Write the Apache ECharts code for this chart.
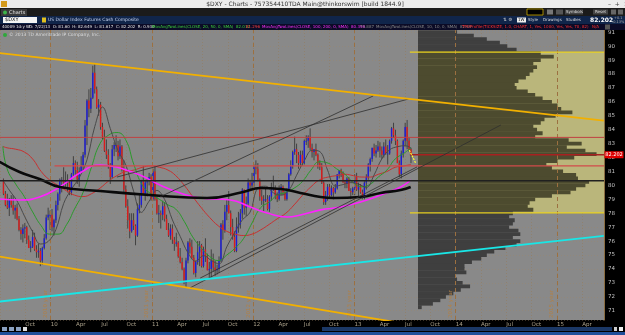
<!DOCTYPE html>
<html><head><meta charset="utf-8">
<script src="https://cdn.jsdelivr.net/npm/echarts@6/dist/echarts.min.js"></script>
<style>html,body{margin:0;padding:0;background:#000;overflow:hidden}#c{width:625px;height:335px}</style>
</head><body><div id="c"></div>
<script>
// ---------------- DATA ----------------
const firstWeek = '2009-07-13';
const open = [80.4,79.4,78.6,78.4,79.0,78.6,78.2,78.4,77.6,76.8,76.5,76.9,77.0,76.1,75.5,75.6,76.3,75.4,75.2,75.3,
74.6,75.5,76.2,77.7,77.9,77.9,77.0,77.5,78.6,79.4,80.4,80.4,80.2,80.3,80.2,79.5,80.8,81.6,81.1,80.4,
81.0,81.4,82.2,84.3,86.1,85.5,86.3,88.1,86.9,85.6,85.8,84.2,83.5,82.5,82.2,81.5,80.6,82.6,82.9,82.9,
82.1,82.8,81.1,79.7,78.5,77.5,76.7,77.5,77.1,76.4,78.3,78.6,80.3,79.4,80.2,80.3,80.6,79.0,81.0,79.0,
78.0,78.0,77.9,78.5,77.6,76.8,76.4,76.9,76.1,75.8,75.9,74.9,74.5,74.0,73.0,74.6,75.9,75.6,74.8,73.7,
74.5,75.2,75.7,74.2,75.4,74.9,73.9,74.0,74.6,74.1,73.9,74.0,74.6,77.2,76.8,78.1,78.6,78.0,77.0,76.3,
75.3,77.0,77.2,78.0,79.7,78.4,78.7,80.2,80.0,80.2,81.3,81.2,80.4,79.2,78.9,79.0,79.0,78.3,79.2,79.7,
79.8,79.3,79.0,79.8,79.9,79.5,79.0,79.7,80.8,81.4,82.4,82.6,82.2,81.6,82.2,81.6,83.2,83.2,83.5,82.7,
82.4,82.6,82.2,81.6,81.3,80.2,78.8,79.3,79.9,79.3,79.8,79.5,79.8,80.8,81.1,80.9,80.2,80.1,80.5,79.6,
79.5,79.8,80.6,79.7,80.0,79.5,79.1,80.2,80.6,81.5,81.9,82.7,82.3,82.5,82.8,82.5,82.2,82.8,82.3,82.3,
83.2,84.1,83.6,83.2,81.6,80.8,82.3,83.2,84.2,83.2,82.6];
const close = [79.4,78.6,78.4,79.0,78.6,78.2,78.4,77.6,76.8,76.5,76.9,77.0,76.1,75.5,75.6,76.3,75.4,75.2,75.3,74.6,
75.5,76.2,77.7,77.9,77.9,77.0,77.5,78.6,79.4,80.4,80.4,80.2,80.3,80.2,79.5,80.8,81.6,81.1,80.4,81.0,
81.4,82.2,84.3,86.1,85.5,86.3,88.1,86.9,85.6,85.8,84.2,83.5,82.5,82.2,81.5,80.6,82.6,82.9,82.9,82.1,
82.8,81.1,79.7,78.5,77.5,76.7,77.5,77.1,76.4,78.3,78.6,80.3,79.4,80.2,80.3,80.6,79.0,81.0,79.0,78.0,
78.0,77.9,78.5,77.6,76.8,76.4,76.9,76.1,75.8,75.9,74.9,74.5,74.0,73.0,74.6,75.9,75.6,74.8,73.7,74.5,
75.2,75.7,74.2,75.4,74.9,73.9,74.0,74.6,74.1,73.9,74.0,74.6,77.2,76.8,78.1,78.6,78.0,77.0,76.3,75.3,
77.0,77.2,78.0,79.7,78.4,78.7,80.2,80.0,80.2,81.3,81.2,80.4,79.2,78.9,79.0,79.0,78.3,79.2,79.7,79.8,
79.3,79.0,79.8,79.9,79.5,79.0,79.7,80.8,81.4,82.4,82.6,82.2,81.6,82.2,81.6,83.2,83.2,83.5,82.7,82.4,
82.6,82.2,81.6,81.3,80.2,78.8,79.3,79.9,79.3,79.8,79.5,79.8,80.8,81.1,80.9,80.2,80.1,80.5,79.6,79.5,
79.8,80.6,79.7,80.0,79.5,79.1,80.2,80.6,81.5,81.9,82.7,82.3,82.5,82.8,82.5,82.2,82.8,82.3,82.3,83.2,
84.1,83.6,83.2,81.6,80.8,82.3,83.2,84.2,83.2,82.6,82.2];
const high = [80.5,79.6,79.4,79.1,79.3,79.3,78.6,78.7,77.8,77.0,77.2,77.3,77.1,76.4,76.0,76.8,76.6,75.7,75.8,75.5,
75.6,76.5,77.9,78.4,78.2,78.3,77.6,78.9,79.5,80.5,80.6,81.3,81.0,80.8,80.3,80.9,82.1,81.8,81.7,81.3,
82.1,82.4,84.7,86.2,86.9,87.0,88.6,88.7,87.1,86.2,86.0,84.5,84.0,83.3,82.6,81.6,82.9,83.1,83.6,83.2,
83.3,82.9,81.8,80.0,79.0,78.0,78.0,78.0,77.2,78.7,79.4,80.4,81.4,80.4,80.5,80.9,80.8,81.2,81.4,79.2,
78.6,78.2,78.9,78.8,77.9,77.3,77.2,77.2,76.3,76.6,76.0,75.5,74.8,74.1,74.8,76.0,76.2,76.1,75.0,74.6,
76.0,76.0,75.8,75.6,76.2,75.1,74.5,75.4,75.1,74.6,74.3,74.9,77.3,77.5,78.6,79.0,79.6,78.2,77.6,76.7,
77.7,78.1,78.3,79.8,79.7,79.2,80.5,80.4,80.9,81.5,81.8,81.6,80.5,79.7,79.3,79.8,79.3,79.3,80.2,80.7,
80.0,79.5,80.0,80.1,80.0,79.6,79.8,80.9,81.8,82.5,83.5,83.0,82.4,82.5,82.5,83.3,83.6,83.6,84.1,83.0,
82.6,83.0,82.3,81.8,81.6,80.3,79.6,80.1,80.1,80.0,79.9,80.1,80.8,81.1,81.2,81.0,80.4,80.6,80.6,79.8,
79.9,80.8,80.9,80.2,80.1,79.7,80.3,80.8,81.6,82.0,82.7,83.0,82.9,83.2,83.1,82.8,83.1,83.3,82.9,83.3,
84.2,84.5,84.0,83.3,81.8,82.5,83.3,84.5,84.7,83.4,82.7];
const low = [79.3,78.5,78.3,77.8,78.4,77.9,77.6,77.5,76.7,76.1,75.9,76.2,75.8,75.5,75.2,75.5,75.3,74.8,74.8,74.2,
74.3,75.4,76.1,77.5,76.8,76.7,76.4,77.3,78.2,78.9,79.5,79.9,79.9,79.5,79.3,79.3,80.6,80.7,80.1,79.9,
80.9,81.0,82.0,82.9,84.9,85.2,86.2,86.6,85.5,85.0,84.0,83.3,82.4,81.9,81.2,80.1,80.5,82.1,82.4,81.8,
81.9,81.0,79.5,78.4,76.9,76.2,76.6,76.8,75.7,76.3,78.0,78.4,79.3,78.9,79.2,80.0,78.9,78.9,78.9,77.9,
77.3,76.9,77.5,77.4,76.8,76.3,76.1,75.8,75.3,75.6,74.8,74.4,73.9,72.9,72.7,74.4,75.1,74.7,73.6,73.4,
74.3,74.2,74.1,74.1,74.5,73.9,73.4,73.4,73.8,73.5,73.6,73.7,74.5,76.1,76.6,77.5,78.0,76.4,76.1,75.2,
75.2,76.6,76.9,77.6,77.9,77.8,78.5,79.7,79.8,79.9,80.8,80.3,78.9,78.6,78.1,78.8,78.2,78.1,78.9,79.6,
79.0,78.8,78.9,79.3,79.3,78.9,78.9,79.6,80.7,81.2,82.2,81.6,81.2,81.3,81.4,81.5,82.9,82.7,82.5,82.0,
81.8,82.1,81.2,81.1,80.1,78.6,78.6,78.9,79.1,79.2,79.0,79.4,79.7,80.5,80.6,80.2,79.8,79.8,79.6,79.0,
79.3,79.3,79.6,79.2,79.4,79.0,79.0,79.7,80.4,81.0,81.7,82.1,82.0,82.4,82.0,81.9,82.0,82.2,81.5,82.2,
83.0,83.4,82.9,81.6,80.6,80.5,82.0,82.8,82.6,82.4,81.6];

// 10-week average (gray), sampled at these week numbers
const grayWeeks = [1,4,8,12,16,20,24,28,32,36,40,44,48,52,56,60,64,68,72,76,80,84,88,92,96,100,104,108,112,116,120,124,128,132,136,140,144,148,152,156,160,164,168,172,176,180,184,188,192,196,200,204,208,211];
const grayMA = [80.3,79.66,78.88,77.74,76.67,75.79,75.97,76.82,78.70,79.73,80.55,81.84,84.22,85.63,84.09,82.50,81.47,79.59,78.06,78.87,79.64,78.99,77.52,76.34,75.16,74.55,74.96,74.61,74.36,75.59,76.59,77.52,78.08,79.81,79.94,79.47,79.30,79.65,80.73,81.77,82.52,82.43,81.10,79.95,80.06,80.20,80.09,79.86,80.75,81.92,82.56,82.78,82.85,82.69];

const maDates = ['2009-07-13','2009-07-28','2009-08-28','2009-09-28','2009-10-28','2009-11-28','2009-12-28',
'2010-01-28','2010-02-28','2010-03-28','2010-04-28','2010-05-28','2010-06-28','2010-07-28','2010-08-28','2010-09-28','2010-10-28','2010-11-28','2010-12-28',
'2011-01-28','2011-02-28','2011-03-28','2011-04-28','2011-05-28','2011-06-28','2011-07-28','2011-08-28','2011-09-28','2011-10-28','2011-11-28','2011-12-28',
'2012-01-28','2012-02-28','2012-03-28','2012-04-28','2012-05-28','2012-06-28','2012-07-28','2012-08-28','2012-09-28','2012-10-28','2012-11-28','2012-12-28',
'2013-01-28','2013-02-28','2013-03-28','2013-04-28','2013-05-28','2013-06-28','2013-07-24'];
const greenMA = [82.8,81.2,80.1,79.2,78.1,77.1,76.5,
76.5,77.2,78.3,79.5,81.3,83.0,83.6,83.8,83.3,81.5,80.0,79.4,
79.0,78.6,78.3,77.4,76.3,75.5,74.9,74.6,75.0,75.5,76.2,77.3,
78.4,78.8,79.3,79.5,79.8,80.3,81.1,81.7,81.6,81.2,80.8,80.2,
79.9,80.1,80.6,81.1,81.9,82.3,82.7];
const redMA = [82.8,82.7,82.6,82.4,81.9,81.0,80.4,
80.0,79.6,79.3,79.2,79.4,79.8,80.3,80.7,81.0,81.1,81.3,81.4,
81.3,81.1,80.7,80.0,79.2,78.4,77.7,77.1,76.7,76.5,76.4,76.5,
76.8,77.2,77.6,78.0,78.6,79.3,79.9,80.4,80.6,80.7,80.8,80.7,
80.6,80.6,80.8,81.0,81.3,81.4,81.5];

const magentaDates = ['2009-07-01','2009-09-11','2009-11-22','2010-02-03','2010-04-16','2010-06-28','2010-08-03','2010-09-08','2010-11-19','2011-01-30','2011-04-13','2011-06-24','2011-10-11','2011-12-22','2012-02-21','2012-05-04','2012-06-20','2012-09-01','2012-11-12','2013-01-23','2013-04-06','2013-06-17','2013-07-23'];
const magentaMA = [79.03,78.95,79.17,79.89,80.89,81.47,81.39,81.25,80.75,80.03,79.46,79.10,78.95,78.45,78.02,77.73,77.88,78.24,78.45,78.81,79.31,79.89,80.39];

const blackDates = ['2009-07-01','2009-09-11','2009-11-22','2010-02-03','2010-06-28','2010-12-25','2011-07-19','2011-11-26','2012-01-27','2012-04-09','2012-06-20','2012-09-01','2012-10-18','2013-01-23','2013-04-06','2013-06-17','2013-07-23'];
const blackMA = [81.7,80.96,80.46,79.89,79.60,79.31,79.10,79.53,79.81,79.74,79.46,79.17,79.10,79.17,79.46,79.67,79.89];

// drawn lines: [date, price] end points
const orangeUpper = [['2009-07-02',89.51],['2015-06-19',84.66]];
const orangeLower = [['2009-07-02',74.89],['2015-06-19',67.70]];
const cyanLine    = [['2009-07-02',71.66],['2015-06-19',76.37]];
const trendA = [['2010-08-28',80.60],['2013-07-16',86.21]];
const trendB = [['2011-01-30',79.17],['2013-03-10',86.43]];
const channelLow = [['2011-05-18',72.63],['2014-06-13',84.34]];
const channelUp  = [['2011-06-24',73.34],['2013-08-15',81.33]];
const arrowLine  = [['2013-07-18',82.53],['2013-08-10',81.60]];

const redLevelFull = 83.45;
const redLevelMid = 81.40, redLevelMidFrom = '2010-01-15';
const blackLevel = 80.33;
const lastPrice = 82.202;
const vaHigh = 89.58, vaLow = 78.02, levelsFrom = '2013-07-20';

// TPO / volume profile (price row -> relative width)
const profilePrice = [91.0,90.75,90.5,90.25,90.0,89.75,89.5,89.25,89.0,88.75,88.5,88.25,88.0,87.75,87.5,87.25,87.0,86.75,86.5,86.25,86.0,85.75,85.5,85.25,85.0,84.75,84.5,84.25,84.0,83.75,83.5,83.25,83.0,82.75,82.5,82.25,82.0,81.75,81.5,81.25,81.0,80.75,80.5,80.25,80.0,79.75,79.5,79.25,79.0,78.75,78.5,78.25,78.0,77.75,77.5,77.25,77.0,76.75,76.5,76.25,76.0,75.75,75.5,75.25,75.0,74.75,74.5,74.25,74.0,73.75,73.5,73.25,73.0,72.75,72.5,72.25,72.0,71.75,71.5,71.25];
const profileWidth = [21,30,37,44,48,53,66,73,66,62,64,62,60,58,54,52,53,59,63,67,72,75,77,83,74,68,66,62,64,67,63,81,88,80,90,96,84,75,69,72,78,85,86,92,90,85,82,72,63,60,59,62,51,49,52,51,49,54,55,51,55,53,47,41,37,34,29,25,25,26,20,21,24,28,23,19,15,12,8,2];

const yearLines = [2010,2011,2012,2013,2014,2015];
const quarterNames = ['', 'Apr', 'Jul', 'Oct'];

// ---------------- HELPERS ----------------
const DAY = 86400000;
function yf(t){ const d=new Date(t); const y=d.getUTCFullYear(); const a=Date.UTC(y,0,1), b=Date.UTC(y+1,0,1); return y+(t-a)/(b-a); }
function ds(s){ const p=s.split('-').map(Number); return yf(Date.UTC(p[0],p[1]-1,p[2])); }
const t0 = (()=>{const p=firstWeek.split('-').map(Number);return Date.UTC(p[0],p[1]-1,p[2]);})();
function weekX(i){ return yf(t0 + i*7*DAY + 2*DAY); }

const X_MIN = 2009.5, X_MAX = 2015.465;
const Y_MIN = 70.33, Y_MAX = 91.165;

const candleData = open.map((o,i)=>[weekX(i), o, close[i], low[i], high[i]]);
const grayData = grayWeeks.map((w,i)=>[weekX(w-1), grayMA[i]]);
const greenData = maDates.map((d,i)=>[ds(d), greenMA[i]]);
const redData = maDates.map((d,i)=>[ds(d), redMA[i]]);
const magData = magentaDates.map((d,i)=>[ds(d), magentaMA[i]]);
const blackData = blackDates.map((d,i)=>[ds(d), blackMA[i]]);
const pts = a => a.map(p=>[ds(p[0]), p[1]]);
const profileData = profilePrice.map((p,i)=>[profileWidth[i], p]);

function lineS(data, color, width, extra){
  return Object.assign({type:'line', data, xAxisIndex:0, yAxisIndex:0, symbol:'none', silent:true, z:5,
    lineStyle:{color, width}, animation:false}, extra||{});
}

const FONT = '"DejaVu Sans", sans-serif';
const chart = echarts.init(document.getElementById('c'));
const graphics = [
    // title bar
    {type:'rect', shape:{x:0,y:0,width:625,height:8}, style:{fill:'#ececec'}, z:100},
    {type:'rect', shape:{x:1,y:1,width:6,height:6}, style:{fill:'#d49a1c'}, z:101},
    {type:'text', style:{x:305,y:4.3,text:'$DXY - Charts - 757354410TDA Main@thinkorswim [build 1844.9]', fill:'#333', font:'6px '+FONT, align:'center', verticalAlign:'middle'}, z:101},
    {type:'text', style:{x:608,y:4.3,text:'–  +  ×', fill:'#444', font:'6px '+FONT, verticalAlign:'middle'}, z:101},
    // tab bar
    {type:'rect', shape:{x:0,y:8,width:625,height:8}, style:{fill:'#1b1b1b'}, z:100},
    {type:'rect', shape:{x:1,y:9,width:26,height:7}, style:{fill:'#3a3a3a'}, z:101},
    {type:'circle', shape:{cx:5,cy:12.5,r:2}, style:{fill:'#3cb44a'}, z:102},
    {type:'text', style:{x:9,y:12.6,text:'Charts', fill:'#e6e6e6', font:'5px '+FONT, verticalAlign:'middle'}, z:102},
    {type:'rect', shape:{x:527,y:9,width:16,height:6}, style:{fill:'#000', stroke:'#c8a800', lineWidth:0.8}, z:101},
    {type:'rect', shape:{x:547,y:9.5,width:6,height:5}, style:{fill:'#777'}, z:101},
    {type:'rect', shape:{x:556,y:9.5,width:7,height:5}, style:{fill:'#555'}, z:101},
    {type:'rect', shape:{x:565,y:9.5,width:18,height:5}, style:{fill:'#444'}, z:101},
    {type:'text', style:{x:566,y:12.2,text:'Symbols', fill:'#ddd', font:'4px '+FONT, verticalAlign:'middle'}, z:102},
    {type:'rect', shape:{x:593,y:9.5,width:15,height:5}, style:{fill:'#444'}, z:101},
    {type:'text', style:{x:595,y:12.2,text:'Reset', fill:'#ddd', font:'4px '+FONT, verticalAlign:'middle'}, z:102},
    {type:'rect', shape:{x:611,y:9.5,width:5,height:5}, style:{fill:'#666'}, z:101},
    {type:'rect', shape:{x:618,y:9.5,width:5,height:5}, style:{fill:'#666'}, z:101},
    // symbol bar
    {type:'rect', shape:{x:0,y:16,width:625,height:8}, style:{fill:'#10254a'}, z:100},
    {type:'rect', shape:{x:3,y:17,width:34,height:6}, style:{fill:'#f4f4f4'}, z:101},
    {type:'text', style:{x:5,y:20.2,text:'$DXY', fill:'#111', font:'5px '+FONT, verticalAlign:'middle'}, z:102},
    {type:'rect', shape:{x:42,y:17.5,width:4,height:5}, style:{fill:'#e0c020'}, z:101},
    {type:'text', style:{x:48,y:20.2,text:'US Dollar Index Futures Cash Composite', fill:'#c8d4f0', font:'4.5px '+FONT, verticalAlign:'middle'}, z:101},
    {type:'text', style:{x:503,y:20.2,text:'⇅ ⚙', fill:'#ccc', font:'4.5px '+FONT, verticalAlign:'middle'}, z:101},
    {type:'rect', shape:{x:517,y:17.5,width:9,height:5}, style:{fill:'#eee'}, z:101},
    {type:'text', style:{x:518,y:20.2,text:'1W', fill:'#111', font:'4px '+FONT, verticalAlign:'middle'}, z:102},
    {type:'text', style:{x:528,y:20.2,text:'Style', fill:'#ddd', font:'4px '+FONT, verticalAlign:'middle'}, z:101},
    {type:'text', style:{x:543,y:20.2,text:'Drawings', fill:'#ddd', font:'4px '+FONT, verticalAlign:'middle'}, z:101},
    {type:'text', style:{x:566,y:20.2,text:'Studies', fill:'#ddd', font:'4px '+FONT, verticalAlign:'middle'}, z:101},
    {type:'text', style:{x:590,y:20.4,text:'82.202', fill:'#ffffff', font:'bold 6px '+FONT, verticalAlign:'middle'}, z:101},
    {type:'text', style:{x:614,y:18.5,text:'+0.1', fill:'#aaa', font:'3.5px '+FONT, verticalAlign:'middle'}, z:101},
    {type:'text', style:{x:612,y:22,text:'-0.13%', fill:'#aaa', font:'3.5px '+FONT, verticalAlign:'middle'}, z:101},
    // study legend bar
    {type:'rect', shape:{x:0,y:24,width:625,height:6}, style:{fill:'#0b0b26'}, z:100},
    {type:'text', style:{x:2,y:27,text:'40009 1d:y W', fill:'#e8e8e8', font:'4px '+FONT, verticalAlign:'middle'}, z:101},
    {type:'text', style:{x:29,y:27,text:'D: 7/22/13  O: 81.60  H: 82.649  L: 81.617  C: 82.202  R: 0.930', fill:'#e0e0e0', font:'4px '+FONT, verticalAlign:'middle'}, z:101},
    {type:'text', style:{x:152,y:27,text:'MovAvgTwoLines(CLOSE, 20, 50, 0, SMA)  82.012', fill:'#3cd23c', font:'4px '+FONT, verticalAlign:'middle'}, z:101},
    {type:'text', style:{x:246,y:27,text:'81.296', fill:'#ff4040', font:'4px '+FONT, verticalAlign:'middle'}, z:101},
    {type:'text', style:{x:262,y:27,text:'MovAvgTwoLines(CLOSE, 100, 200, 0, SMA)  80.398', fill:'#ff30ff', font:'4px '+FONT, verticalAlign:'middle'}, z:101},
    {type:'text', style:{x:360,y:27,text:'79.887', fill:'#888', font:'4px '+FONT, verticalAlign:'middle'}, z:101},
    {type:'text', style:{x:376,y:27,text:'MovAvgTwoLines(CLOSE, 10, 10, 0, SMA)  82.69', fill:'#8a8a8a', font:'4px '+FONT, verticalAlign:'middle'}, z:101},
    {type:'text', style:{x:462,y:27,text:'TPOProfile(TICKSIZE, 1.0, CHART, 1, Yes, 1000, Yes, Yes, 70, 82)', fill:'#ff3030', font:'4px '+FONT, verticalAlign:'middle'}, z:101},
    {type:'text', style:{x:592,y:27,text:'N/A', fill:'#ff3030', font:'4px '+FONT, verticalAlign:'middle'}, z:101},
    {type:'rect', shape:{x:605,y:24.5,width:5,height:5}, style:{fill:'#555'}, z:101},
    // copyright
    {type:'circle', shape:{cx:5,cy:35,r:2}, style:{fill:'#2fa83a'}, z:101},
    {type:'text', style:{x:9,y:35.2,text:'© 2013 TD Ameritrade IP Company, Inc.', fill:'#dcdcdc', font:'4.5px '+FONT, verticalAlign:'middle'}, z:101},
    // status bar
    {type:'rect', shape:{x:2,y:327,width:5,height:4}, style:{fill:'#8aa0c0'}, z:101},
    {type:'rect', shape:{x:9,y:327,width:5,height:4}, style:{fill:'#8aa0c0'}, z:101},
    {type:'rect', shape:{x:16,y:327,width:5,height:4}, style:{fill:'#8aa0c0'}, z:101},
    {type:'rect', shape:{x:23,y:327,width:4,height:4}, style:{fill:'#ddd'}, z:101},
    {type:'rect', shape:{x:322,y:327,width:290,height:4}, style:{fill:'#1b3866'}, z:101},
    {type:'rect', shape:{x:614,y:327,width:3,height:4}, style:{fill:'#ccc'}, z:101},
    {type:'rect', shape:{x:619,y:327,width:4,height:4}, style:{fill:'#eee'}, z:101},
    {type:'rect', shape:{x:0,y:332,width:625,height:3}, style:{fill:'#1f4f9a'}, z:101}
];
const option = {
  backgroundColor:'#000',
  animation:false,
  grid:[
    {left:0, right:21, top:30, bottom:15, show:true, backgroundColor:'#898989', borderWidth:0},
    {left:418, right:21, top:30, bottom:15, show:false}
  ],
  xAxis:[
    {type:'value', gridIndex:0, min:X_MIN, max:X_MAX, interval:0.25,
     axisLine:{show:false}, axisTick:{show:false},
     axisLabel:{color:'#aaa08a', fontSize:5.5, fontFamily:FONT, align:'left', margin:2, showMinLabel:false, showMaxLabel:false,
       formatter:v=>{ const q=Math.round(v*4); if(Math.abs(v*4-q)>1e-4) return ''; const m=((q%4)+4)%4; return m===0 ? String((q/4)%100).padStart(2,'0') : quarterNames[m]; }},
     splitLine:{show:true, lineStyle:{color:'rgba(150,120,80,0.45)', type:[1,2], width:1}}},
    {type:'value', gridIndex:1, min:0, max:100, show:false}
  ],
  yAxis:[
    {type:'value', gridIndex:0, position:'right', min:Y_MIN, max:Y_MAX, minInterval:1, maxInterval:1,
     axisLine:{show:true, lineStyle:{color:'#8a6d42'}}, axisTick:{show:false},
     axisLabel:{color:'#c4c4c4', fontSize:5.5, fontFamily:FONT, margin:4, showMinLabel:false, showMaxLabel:false,
       formatter:v=> Math.abs(v-Math.round(v))<1e-6 ? String(Math.round(v)) : ''},
     splitLine:{show:true, lineStyle:{color:'rgba(160,135,100,0.35)', type:[1,2]}}},
    {type:'value', gridIndex:1, min:Y_MIN, max:Y_MAX, show:false}
  ],
  series:[
    // value-area background
    {type:'custom', xAxisIndex:1, yAxisIndex:1, z:1, silent:true, data:[[0,vaLow,100,vaHigh]],
     renderItem:(p,api)=>{ const a=api.coord([api.value(0),api.value(3)]), b=api.coord([api.value(2),api.value(1)]);
       return {type:'rect', shape:{x:a[0],y:a[1],width:b[0]-a[0],height:b[1]-a[1]}, style:{fill:'#bab67b'}}; }},
    // year separators with their vertical captions
    lineS([[X_MIN,blackLevel],[X_MAX,blackLevel]], 'rgba(0,0,0,0)', 0, {z:2,
     markLine:{symbol:'none', silent:true, animation:false,
       lineStyle:{color:'#9c7040', type:[4,3], width:1},
       label:{show:true, position:'insideStartTop', formatter:p=>Math.round(p.value)+' year', color:'#b08048', fontSize:5.5, fontFamily:FONT, distance:2},
       data: yearLines.map(y=>({xAxis:y}))}}),
    // profile bars
    {type:'custom', xAxisIndex:1, yAxisIndex:1, z:3, silent:true, data:profileData,
     renderItem:(p,api)=>{ const w=api.value(0), pr=api.value(1);
       const a=api.coord([0,pr+0.125]), b=api.coord([w,pr-0.125]);
       const inVA = pr<=vaHigh && pr>=vaLow;
       return {type:'rect', shape:{x:a[0],y:a[1]-0.2,width:b[0]-a[0],height:b[1]-a[1]+0.4}, style:{fill: inVA?'#4d4b2f':'#3f3f3f'}}; }},
    // candles
    {type:'custom', xAxisIndex:0, yAxisIndex:0, z:4, silent:true, data:candleData, encode:{x:0,y:[1,2,3,4]},
     renderItem:(p,api)=>{ const x=api.value(0), o=api.value(1), c=api.value(2), l=api.value(3), h=api.value(4);
       const pl=api.coord([x,l]), ph=api.coord([x,h]), po=api.coord([x,o]), pc=api.coord([x,c]);
       const col = c>=o ? '#1c1cdc' : '#dc1c1c';
       const top=Math.min(po[1],pc[1]), bh=Math.max(1,Math.abs(po[1]-pc[1]));
       return {type:'group', children:[
         {type:'line', shape:{x1:pl[0],y1:pl[1],x2:ph[0],y2:ph[1]}, style:{stroke:'#3a3a3a', lineWidth:0.9}},
         {type:'rect', shape:{x:po[0]-0.7,y:top,width:1.4,height:bh}, style:{fill:col}}
       ]}; }},
    // moving averages
    lineS(redData, '#c83030', 1, {smooth:0.5}),
    lineS(greenData, '#2a9a2a', 1, {smooth:0.5}),
    lineS(grayData, '#4a4a4a', 1, {smooth:0.4}),
    lineS(magData, '#ff22ff', 1.6, {smooth:0.5}),
    lineS(blackData, '#0a0a0a', 2.6, {smooth:0.5}),
    // horizontal levels
    lineS([[X_MIN,redLevelFull],[X_MAX,redLevelFull]], '#c04040', 1),
    lineS([[ds(redLevelMidFrom),redLevelMid],[X_MAX,redLevelMid]], '#d24a4a', 1.3),
    lineS([[X_MIN,blackLevel],[X_MAX,blackLevel]], '#202020', 1.6),
    lineS([[ds(levelsFrom),vaHigh],[X_MAX,vaHigh]], '#e8d020', 1.2),
    lineS([[ds(levelsFrom),vaLow],[X_MAX,vaLow]], '#e8d020', 1.2),
    lineS([[ds(levelsFrom),lastPrice],[X_MAX,lastPrice]], '#a82020', 1.3, {markPoint:{symbol:'rect', symbolSize:[19,7], silent:true, animation:false,
      itemStyle:{color:'#e00000'},
      label:{show:true, formatter:String(lastPrice), color:'#fff', fontSize:5, fontFamily:FONT},
      data:[{coord:[X_MAX,lastPrice], symbolOffset:[10,0]}]}}),
    // drawn trend lines
    lineS(pts(trendA), '#2e2e2e', 0.8),
    lineS(pts(trendB), '#2e2e2e', 0.8),
    lineS(pts(channelLow), '#2e2e2e', 0.8),
    lineS(pts(channelUp), '#2e2e2e', 0.8),
    lineS(pts(orangeUpper), '#f2b000', 1.8),
    lineS(pts(orangeLower), '#f2b000', 1.8),
    lineS(pts(cyanLine), '#19e6e6', 1.8),
    lineS(pts(arrowLine), '#ffff30', 1.2, {lineStyle:{color:'#ffff30', width:1.2, type:[2,1]}})
  ],
  graphic: graphics
};
chart.setOption(option);
</script>
</body></html>
